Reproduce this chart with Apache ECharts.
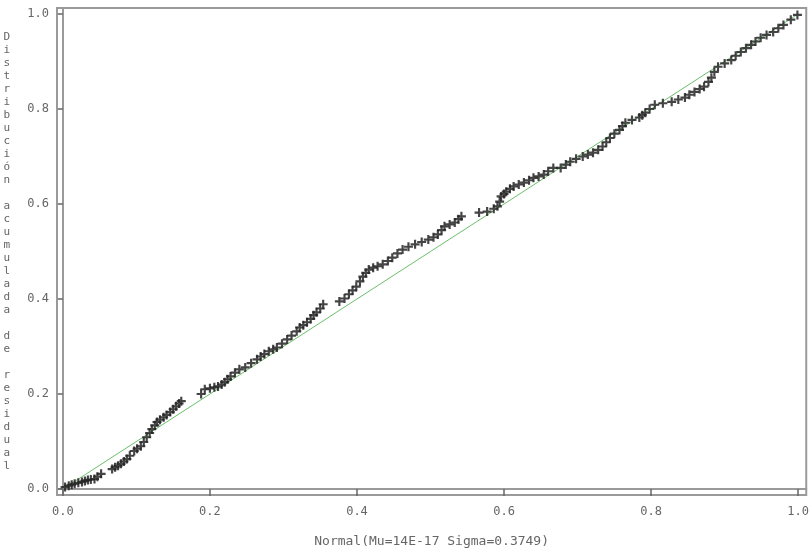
<!DOCTYPE html>
<html>
<head>
<meta charset="utf-8">
<script src="https://cdn.jsdelivr.net/npm/echarts@6/dist/echarts.min.js"></script>
<style>html,body{margin:0;padding:0;background:#fff}#c{width:812px;height:553px}</style>
</head>
<body>
<div id="c"></div>
<script>
const xVals = [
 0.003,0.008,0.012,0.016,0.021,0.026,0.030,0.034,0.038,0.043,0.047,0.052,
 0.067,0.071,0.075,0.079,0.083,0.087,0.091,0.097,0.101,0.106,0.110,0.114,0.118,0.121,0.125,0.128,0.132,0.137,0.141,0.146,0.150,0.154,0.158,0.161,
 0.188,0.193,0.200,0.206,0.211,0.216,0.220,0.224,0.228,0.234,0.240,0.248,0.256,0.264,0.269,0.274,0.280,0.286,0.291,0.298,0.305,0.311,0.318,0.322,0.327,0.332,0.337,0.341,0.345,0.350,0.354,
 0.376,0.383,0.389,0.394,0.399,0.404,0.408,0.412,0.416,0.422,0.428,0.435,0.442,0.448,0.455,0.462,0.470,0.479,0.488,0.497,0.504,0.510,0.515,0.519,0.526,0.533,0.538,0.542,
 0.566,0.577,0.586,0.591,0.594,0.596,0.600,0.603,0.608,0.613,0.620,0.627,0.634,0.640,0.647,0.654,0.660,0.667,0.677,0.684,0.690,0.698,0.707,0.714,0.721,0.728,0.734,0.739,0.744,0.750,0.757,0.761,0.765,0.774,0.784,0.788,0.792,0.798,0.805,0.816,0.828,0.837,0.846,0.852,0.859,0.866,0.872,0.878,0.882,0.886,0.891,0.900,0.909,0.915,0.922,0.929,0.936,0.942,0.949,0.957,0.966,0.973,0.980,0.990,0.999
];
const yVals = [
 0.004,0.007,0.009,0.011,0.013,0.015,0.017,0.019,0.020,0.021,0.026,0.032,
 0.042,0.046,0.049,0.053,0.058,0.063,0.070,0.080,0.085,0.090,0.099,0.109,0.118,0.126,0.134,0.141,0.146,0.151,0.156,0.162,0.168,0.174,0.180,0.185,
 0.200,0.210,0.212,0.214,0.216,0.220,0.225,0.231,0.237,0.245,0.252,0.256,0.265,0.273,0.279,0.284,0.290,0.294,0.298,0.306,0.315,0.323,0.332,0.340,0.345,0.351,0.358,0.366,0.372,0.380,0.389,
 0.395,0.401,0.410,0.418,0.426,0.437,0.447,0.455,0.462,0.466,0.469,0.473,0.480,0.487,0.496,0.504,0.510,0.515,0.520,0.525,0.530,0.536,0.545,0.553,0.557,0.561,0.568,0.574,
 0.582,0.584,0.590,0.595,0.605,0.616,0.621,0.626,0.632,0.637,0.641,0.645,0.650,0.655,0.658,0.662,0.669,0.676,0.676,0.683,0.689,0.695,0.700,0.704,0.708,0.714,0.721,0.730,0.739,0.748,0.756,0.764,0.771,0.777,0.782,0.787,0.792,0.800,0.809,0.812,0.815,0.820,0.824,0.830,0.836,0.842,0.847,0.857,0.866,0.878,0.889,0.896,0.903,0.912,0.920,0.928,0.935,0.942,0.950,0.956,0.962,0.970,0.977,0.988,0.998
];
const refLine = [[0,0],[1,1]];
const tickValues = [0,0.2,0.4,0.6,0.8,1.0];
const xTitle = 'Normal(Mu=14E-17 Sigma=0.3749)';
const yTitle = 'Distribución acumulada de residual';

const points = xVals.map((x,i)=>[x,yVals[i]]);
const font = '"DejaVu Sans Mono", "Liberation Mono", monospace';

const chart = echarts.init(document.getElementById('c'));
chart.setOption({
  animation:false,
  backgroundColor:'#fff',
  grid:{left:57, top:8, width:757, height:488, show:true, borderColor:'#9a9a9a', borderWidth:2, containLabel:false},
  xAxis:{
    type:'value', min:-0.008, max:1.011,
    splitLine:{show:false},
    axisLine:{lineStyle:{color:'#9a9a9a', width:2}},
    axisTick:{customValues:tickValues, length:7, lineStyle:{color:'#666', width:1.5}},
    axisLabel:{customValues:tickValues, formatter:v=>v.toFixed(1), color:'#666', fontFamily:font, fontSize:12, margin:11, alignMaxLabel:'center', alignMinLabel:'center'},
    name:xTitle, nameLocation:'middle', nameGap:40,
    nameTextStyle:{color:'#666', fontFamily:font, fontSize:13}
  },
  yAxis:{
    type:'value', min:-0.0126, max:1.0126,
    splitLine:{show:false},
    axisLine:{lineStyle:{color:'#9a9a9a', width:2}},
    axisTick:{customValues:tickValues, length:5, lineStyle:{color:'#666', width:1.5}},
    axisLabel:{customValues:tickValues, formatter:v=>v.toFixed(1), color:'#666', fontFamily:font, fontSize:12, margin:8},
    name:yTitle.split('').join('\n'), nameLocation:'middle', nameGap:47, nameRotate:0,
    nameTextStyle:{color:'#666', fontFamily:font, fontSize:11, lineHeight:13}
  },
  series:[
    {type:'line', data:refLine, symbol:'none', silent:true, z:1,
     lineStyle:{color:'#6cbf6c', width:1}},
    {type:'scatter', data:points, z:2,
     symbol:'path://M3.8,0h2.4v10h-2.4z M0,3.8h10v2.4h-10z', symbolSize:9,
     itemStyle:{color:'#252525', opacity:0.85}}
  ]
});
</script>
</body>
</html>
